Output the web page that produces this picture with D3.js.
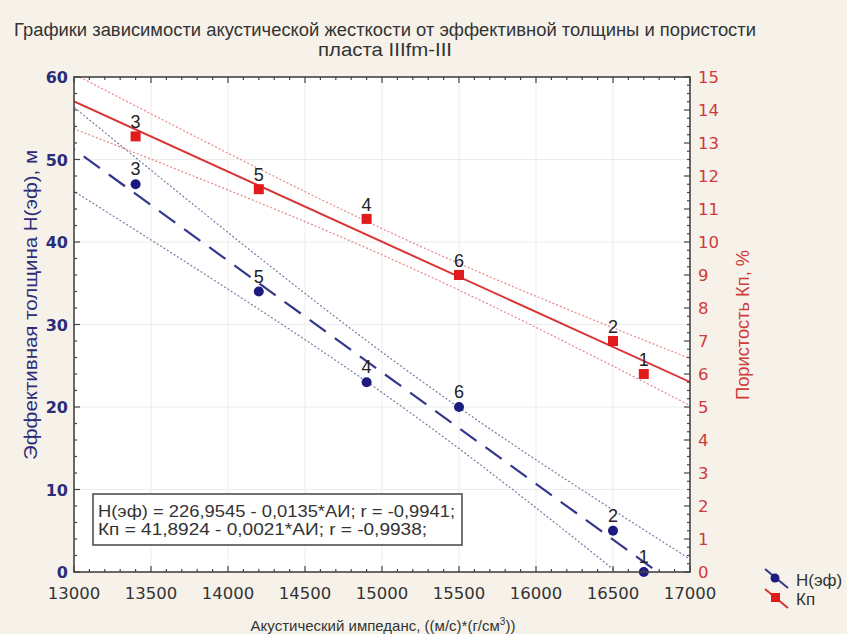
<!DOCTYPE html>
<html>
<head>
<meta charset="utf-8">
<script src="https://cdn.jsdelivr.net/npm/d3@7"></script>
<style>
  body { margin: 0; background: #f6f2ea; }
  svg { display: block; }
</style>
</head>
<body>
<svg id="chart"></svg>
<script>
// data
var impedance = [13400, 14200, 14900, 15500, 16500, 16700];
var thickness = [47, 34, 23, 20, 5, 0];
var porosity = [13.2, 11.6, 10.7, 9.0, 7.0, 6.0];
var pointLabels = ["3", "5", "4", "6", "2", "1"];

var xTicks = [13000, 13500, 14000, 14500, 15000, 15500, 16000, 16500, 17000];
var leftTicks = [0, 10, 20, 30, 40, 50, 60];
var rightTicks = d3.range(0, 16);

var titleLines = [
    "Графики зависимости акустической жесткости от эффективной толщины и пористости",
    "пласта IIIfm-III"
];
var equations = [
    "Н(эф) = 226,9545 - 0,0135*АИ; r = -0,9941;",
    "Кп = 41,8924 - 0,0021*АИ; r = -0,9938;"
];
var legendNames = ["Н(эф)", "Кп"];

var W = 847, H = 634;
var pL = 74, pR = 690, pT = 77, pB = 572;

var red = "#e01b1b";
var sans = "'Liberation Sans', Arial, sans-serif";

var svg = d3.select("#chart").attr("width", W).attr("height", H);

var x = d3.scaleLinear().domain([13000, 17000]).range([pL, pR]);
var yL = d3.scaleLinear().domain([0, 60]).range([pB, pT]);
var yR = d3.scaleLinear().domain([0, 15]).range([pB, pT]);

// plot area
svg.append("rect")
    .attr("x", pL).attr("y", pT)
    .attr("width", pR - pL).attr("height", pB - pT)
    .style("fill", "#fff");

svg.append("clipPath").attr("id", "clip")
  .append("rect")
    .attr("x", pL).attr("y", pT)
    .attr("width", pR - pL).attr("height", pB - pT);

// grid
var grid = svg.append("g").style("stroke", "#ececec").style("stroke-width", 1);
xTicks.slice(1, -1).forEach(function(t){
    grid.append("line").attr("x1", x(t)).attr("x2", x(t)).attr("y1", pT).attr("y2", pB);
});
leftTicks.slice(1, -1).forEach(function(t){
    grid.append("line").attr("x1", pL).attr("x2", pR).attr("y1", yL(t)).attr("y2", yL(t));
});

// least squares + 95% confidence band (t, df = 4)
function fit(xs, ys){
    var n = xs.length;
    var mx = d3.mean(xs), my = d3.mean(ys);
    var sxy = 0, sxx = 0;
    for(var i = 0; i < n; i++){
        sxy += (xs[i] - mx)*(ys[i] - my);
        sxx += (xs[i] - mx)*(xs[i] - mx);
    }
    var b = sxy/sxx;
    var a = my - b*mx;
    var sse = 0;
    for(var i = 0; i < n; i++){
        var r = ys[i] - (a + b*xs[i]);
        sse += r*r;
    }
    var s = Math.sqrt(sse/(n - 2));
    return {
        at: function(v){ return a + b*v; },
        half: function(v){ return 2.776*s*Math.sqrt(1/n + (v - mx)*(v - mx)/sxx); }
    };
}

var fitH = fit(impedance, thickness);
var fitK = fit(impedance, porosity);
var xs = d3.range(12900, 17101, 25);

var lines = svg.append("g").attr("clip-path", "url(#clip)");

function drawBand(f, yScale, color, dash, width, main){
    var ln = d3.line().x(function(v){ return x(v); });
    lines.append("path").datum(xs)
        .attr("d", ln.y(function(v){ return yScale(f.at(v) + f.half(v)); }))
        .style("fill", "none").style("stroke", color).style("stroke-width", 1.2)
        .style("stroke-dasharray", "2,2");
    lines.append("path").datum(xs)
        .attr("d", ln.y(function(v){ return yScale(f.at(v) - f.half(v)); }))
        .style("fill", "none").style("stroke", color).style("stroke-width", 1.2)
        .style("stroke-dasharray", "2,2");
    lines.append("path").datum([12900, 17100])
        .attr("d", ln.y(function(v){ return yScale(f.at(v)); }))
        .style("fill", "none").style("stroke", main).style("stroke-width", width)
        .style("stroke-dasharray", dash);
}
drawBand(fitK, yR, "#e98585", null, 2, "#d93535");
drawBand(fitH, yL, "#7a7aa8", "20,11", 2.2, "#33388a");

// points
var pts = svg.append("g");
pts.selectAll("circle").data(impedance).enter().append("circle")
    .attr("cx", function(d){ return x(d); })
    .attr("cy", function(d, i){ return yL(thickness[i]); })
    .attr("r", 5)
    .style("fill", "#1c1c80");
pts.selectAll("rect").data(impedance).enter().append("rect")
    .attr("x", function(d){ return x(d) - 5; })
    .attr("y", function(d, i){ return yR(porosity[i]) - 5; })
    .attr("width", 10).attr("height", 10)
    .style("fill", red);

var lab = svg.append("g")
    .style("font-family", sans).style("font-size", "18px")
    .style("fill", "#222").attr("text-anchor", "middle");
impedance.forEach(function(d, i){
    lab.append("text").attr("x", x(d)).attr("y", yL(thickness[i]) - 9).text(pointLabels[i]);
    lab.append("text").attr("x", x(d)).attr("y", yR(porosity[i]) - 8).text(pointLabels[i]);
});

// frame + inward ticks
var frame = svg.append("g").style("stroke", "#444").style("stroke-width", 1.2);
frame.append("rect")
    .attr("x", pL).attr("y", pT)
    .attr("width", pR - pL).attr("height", pB - pT)
    .style("fill", "none").style("stroke-width", 1.6);

d3.range(13000, 17001, 100).forEach(function(t){
    var len = (t % 500 == 0) ? 6 : 3;
    frame.append("line").attr("x1", x(t)).attr("x2", x(t)).attr("y1", pB).attr("y2", pB - len);
    frame.append("line").attr("x1", x(t)).attr("x2", x(t)).attr("y1", pT).attr("y2", pT + len);
});
d3.range(0, 61, 2).forEach(function(t){
    var len = (t % 10 == 0) ? 6 : 3;
    frame.append("line").attr("x1", pL).attr("x2", pL + len).attr("y1", yL(t)).attr("y2", yL(t));
});
d3.range(0, 15.01, 0.25).forEach(function(t){
    var len = (Math.abs(t - Math.round(t)) < 0.01) ? 6 : 3;
    frame.append("line").attr("x1", pR).attr("x2", pR - len).attr("y1", yR(t)).attr("y2", yR(t));
});

// tick labels
var tickFont = "'DejaVu Sans', sans-serif";
svg.append("g").selectAll("text").data(xTicks).enter().append("text")
    .attr("x", function(d){ return x(d); }).attr("y", 599)
    .attr("text-anchor", "middle")
    .style("font-family", tickFont).style("font-size", "16.5px").style("fill", "#333")
    .text(function(d){ return d; });

svg.append("g").selectAll("text").data(leftTicks).enter().append("text")
    .attr("x", 68).attr("y", function(d){ return yL(d) + 6; })
    .attr("text-anchor", "end")
    .style("font-family", tickFont).style("font-size", "16px").style("font-weight", "bold")
    .style("fill", "#2c2c78")
    .text(function(d){ return d; });

svg.append("g").selectAll("text").data(rightTicks).enter().append("text")
    .attr("x", 698).attr("y", function(d){ return yR(d) + 6; })
    .attr("text-anchor", "start")
    .style("font-family", tickFont).style("font-size", "16.5px")
    .style("fill", "#d03a3a")
    .text(function(d){ return d; });

// titles
var title = svg.append("g").style("font-family", sans).style("font-size", "18px")
    .style("fill", "#333").attr("text-anchor", "middle");
title.append("text").attr("x", 385).attr("y", 36)
    .attr("textLength", 742).attr("lengthAdjust", "spacingAndGlyphs")
    .text(titleLines[0]);
title.append("text").attr("x", 385).attr("y", 56)
    .attr("textLength", 134).attr("lengthAdjust", "spacingAndGlyphs")
    .text(titleLines[1]);

var xt = svg.append("text").attr("x", 383).attr("y", 631).attr("text-anchor", "middle")
    .style("font-family", sans).style("font-size", "15px").style("fill", "#333");
xt.append("tspan").text("Акустический импеданс, ((м/с)*(г/см");
xt.append("tspan").attr("dy", -6).style("font-size", "10px").text("3");
xt.append("tspan").attr("dy", 6).text("))");

svg.append("text")
    .attr("transform", "translate(37,305) rotate(-90)")
    .attr("text-anchor", "middle")
    .style("font-family", sans).style("font-size", "19px")
    .style("fill", "#2c2c78")
    .attr("textLength", 310).attr("lengthAdjust", "spacingAndGlyphs")
    .text("Эффективная толщина Н(эф), м");

svg.append("text")
    .attr("transform", "translate(749,325) rotate(-90)")
    .attr("text-anchor", "middle")
    .style("font-family", sans).style("font-size", "18px")
    .style("fill", "#d03a3a")
    .attr("textLength", 150).attr("lengthAdjust", "spacingAndGlyphs")
    .text("Пористость Кп, %");

// equation box
var eqLen = [357, 329];
svg.append("rect").attr("x", 93).attr("y", 494).attr("width", 369).attr("height", 51)
    .style("fill", "#fff").style("stroke", "#444").style("stroke-width", 1.5);
svg.append("g").selectAll("text").data(equations).enter().append("text")
    .attr("x", 98).attr("y", function(d, i){ return 517 + i*18; })
    .attr("textLength", function(d, i){ return eqLen[i]; })
    .attr("lengthAdjust", "spacingAndGlyphs")
    .style("font-family", sans).style("font-size", "17px")
    .style("fill", "#333")
    .text(function(d){ return d; });

// legend
var leg = svg.append("g");
leg.append("line").attr("x1", 765).attr("y1", 569).attr("x2", 788).attr("y2", 588)
    .style("stroke", "#33388a").style("stroke-width", 2);
leg.append("circle").attr("cx", 775).attr("cy", 578).attr("r", 4.5).style("fill", "#1c1c80");
leg.append("line").attr("x1", 765).attr("y1", 589).attr("x2", 788).attr("y2", 608)
    .style("stroke", "#d93535").style("stroke-width", 2);
leg.append("rect").attr("x", 771).attr("y", 593).attr("width", 9).attr("height", 9).style("fill", red);
leg.selectAll("text").data(legendNames).enter().append("text")
    .attr("x", 796).attr("y", function(d, i){ return 586 + i*19; })
    .style("font-family", sans).style("font-size", "17px").style("fill", "#333")
    .text(function(d){ return d; });
</script>
</body>
</html>
